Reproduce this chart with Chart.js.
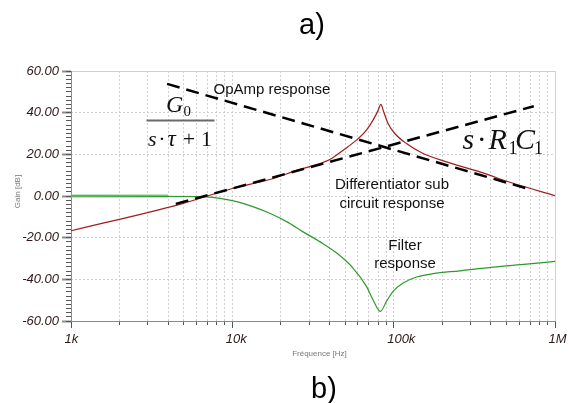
<!DOCTYPE html>
<html><head><meta charset="utf-8">
<script src="https://cdn.jsdelivr.net/npm/chart.js@4"></script>
<style>html,body{margin:0;padding:0;background:#fff}canvas{display:block}</style>
</head><body>
<canvas id="c" width="569" height="403"></canvas>
<script>
// ---- tick definitions ----
const xTickValues = [1000, 10000, 100000, 1000000];
const xTickLabels = ['1k', '10k', '100k', '1M'];
const yTickValues = [-60, -40, -20, 0, 20, 40, 60];

// ---- Filter response (green) ----
const filterFreq = [1000, 6550, 8360, 10650, 13400, 17050, 21700, 27300, 34800, 44400, 55800, 67800, 74500, 82800, 90200, 99200, 114400, 138500, 175500, 256900, 413000, 666000, 1000000];
const filterGain = [0, -0.3, -1.1, -2.7, -5.1, -8.3, -12.3, -17.1, -21.9, -27.4, -34.5, -43.4, -49.8, -55.4, -50.6, -45.8, -41.8, -38.9, -37.3, -35.9, -34.1, -32.7, -31.4];

// ---- overlapping flat 0 dB trace (light green) ----
const flatFreq = [1000, 4000];
const flatGain = [0, 0];

// ---- Differentiator sub circuit response (red) ----
const diffFreq = [1000, 4720, 10000, 17050, 25000, 40200, 48600, 58800, 67800, 74500, 80100, 83200, 86800, 92300, 101600, 120000, 152200, 212500, 342000, 550000, 1000000];
const diffGain = [-16.7, -4.0, 3.6, 7.9, 12.3, 17.5, 22, 26.8, 31.6, 36.4, 41.1, 44.0, 40.3, 34.8, 30, 25.2, 20.4, 16.4, 11.6, 6.1, 0.2];

// ---- asymptotes (dashed) ----
const opampFreq = [3940, 698000];
const opampGain = [53.8, 3.2];
const rcFreq = [4460, 739000];
const rcGain = [-3.8, 43.1];

const pts = (xs, ys) => xs.map((x, i) => ({x: x, y: ys[i]}));

const minorX = [];
for (let d = 1000; d < 1000000; d *= 10) for (let k = 1; k < 10; k++) minorX.push(d * k);
minorX.push(1000000);
const minorY = [];
for (let v = -60; v <= 60; v += 2) minorY.push(v);

const SANS = '"Liberation Sans", Arial, sans-serif';
const labelColor = '#301818';
Chart.defaults.font.family = SANS;

const texts = {
  id: 'texts',
  afterDraw(chart) {
    const c = chart.ctx;
    c.save();
    c.textBaseline = 'alphabetic';
    c.fillStyle = '#000';
    c.textAlign = 'center';
    c.font = '29px ' + SANS;
    c.fillText('a)', 312, 33.5);
    c.fillText('b)', 324, 397.5);

    c.fillStyle = '#111';
    c.font = '15px ' + SANS;
    c.textAlign = 'left';
    c.fillText('OpAmp response', 213.5, 94.3);
    c.textAlign = 'center';
    c.fillText('Differentiator sub', 392, 189.3);
    c.fillText('circuit response', 392, 207.7);
    c.fillText('Filter', 405, 250);
    c.fillText('response', 405, 268.3);

    c.fillStyle = '#777';
    c.font = '8px ' + SANS;
    c.fillText('Fréquence [Hz]', 319.5, 355.5);
    c.save();
    c.translate(19.5, 191.5);
    c.rotate(-Math.PI / 2);
    c.fillText('Gain [dB]', 0, 0);
    c.restore();

    const serifI = s => 'italic ' + s + 'px "Liberation Serif", "Times New Roman", serif';
    const serif = s => s + 'px "Liberation Serif", "Times New Roman", serif';
    c.fillStyle = '#111';
    c.textAlign = 'left';
    // G0 / (s·τ+1)
    c.font = serifI(24); c.fillText('G', 166, 111.7);
    c.font = serif(15); c.fillText('0', 183.5, 116);
    c.fillStyle = '#6a6a6a';
    c.fillRect(146.5, 119.5, 68, 2);
    c.fillStyle = '#111';
    c.font = serifI(22); c.fillText('s', 148, 145.5);
    c.textAlign = 'center';
    c.font = serif(22); c.fillText('\u00B7', 162, 145.5);
    c.textAlign = 'left';
    c.font = serifI(23); c.fillText('\u03C4', 167.5, 145.5);
    c.textAlign = 'center';
    c.font = serif(22); c.fillText('+', 189, 145.5);
    c.textAlign = 'left';
    c.fillText('1', 201, 145.5);
    // s·R1C1
    c.font = serifI(30); c.fillText('s', 462.5, 149.3);
    c.textAlign = 'center';
    c.font = serif(30); c.fillText('\u00B7', 481.7, 149.3);
    c.textAlign = 'left';
    c.font = serifI(30); c.fillText('R', 488.5, 149.3);
    c.font = serif(18); c.fillText('1', 508.5, 154.3);
    c.font = serifI(30); c.fillText('C', 515, 149.3);
    c.font = serif(18); c.fillText('1', 534, 154.3);
    c.restore();
  }
};

new Chart(document.getElementById('c'), {
  type: 'line',
  data: {
    datasets: [
      { label: 'OpAmp response', data: pts(opampFreq, opampGain), borderColor: '#000', borderWidth: 2.5, borderDash: [13, 7], pointRadius: 0, order: 0, fill: false },
      { label: 's·R1C1', data: pts(rcFreq, rcGain), borderColor: '#000', borderWidth: 2.5, borderDash: [13, 7], pointRadius: 0, order: 0, fill: false },
      { label: 'Differentiator sub circuit response', data: pts(diffFreq, diffGain), borderColor: '#a11d1d', borderWidth: 1.2, pointRadius: 0, cubicInterpolationMode: 'monotone', order: 1, fill: false },
      { label: 'Filter response', data: pts(filterFreq, filterGain), borderColor: '#2e9a2e', borderWidth: 1.2, pointRadius: 0, cubicInterpolationMode: 'monotone', order: 2, fill: false },
      { label: 'flat', data: pts(flatFreq, flatGain), borderColor: '#86c986', borderWidth: 3, pointRadius: 0, order: 3, fill: false }
    ]
  },
  options: {
    responsive: false,
    animation: false,
    devicePixelRatio: 1,
    layout: { padding: { left: 0, right: 14, top: 71, bottom: 52 } },
    plugins: { legend: { display: false }, tooltip: { enabled: false }, title: { display: false } },
    scales: {
      x: {
        type: 'logarithmic', position: 'bottom', min: 1000, max: 1000000, weight: 1,
        afterBuildTicks: s => { s.ticks = xTickValues.map(v => ({value: v})); },
        afterFit: s => { s.height = 30; s.paddingLeft = 0; s.paddingRight = 0; },
        grid: { drawOnChartArea: false, tickLength: 7, tickColor: '#555', tickWidth: 1 },
        border: { display: true, color: '#8a8a8a', width: 1 },
        ticks: {
          autoSkip: false, maxRotation: 0, minRotation: 0, align: 'start', labelOffset: -6.5, padding: 4,
          color: labelColor, font: { family: SANS, size: 13, style: 'italic' },
          callback: v => { const i = xTickValues.indexOf(v); return i >= 0 ? xTickLabels[i] : ''; }
        }
      },
      xm: {
        type: 'logarithmic', position: 'bottom', min: 1000, max: 1000000, weight: 0,
        afterBuildTicks: s => { s.ticks = minorX.map(v => ({value: v})); },
        afterFit: s => { s.height = 0; s.paddingLeft = 0; s.paddingRight = 0; },
        grid: {
          drawOnChartArea: true, tickLength: 4, tickColor: '#555', tickWidth: 1,
          color: ctx => (ctx.tick && ctx.tick.value === 1000) ? 'rgba(0,0,0,0)' : '#d0d0d0'
        },
        border: { display: false, dash: ctx => (ctx.tick && ctx.tick.value === 1000000) ? [] : [2, 2] },
        ticks: { display: false, autoSkip: false }
      },
      y: {
        type: 'linear', position: 'left', min: -60, max: 60, weight: 1,
        afterBuildTicks: s => { s.ticks = yTickValues.map(v => ({value: v})); },
        afterFit: s => { s.width = 71; },
        grid: { drawOnChartArea: false, tickLength: 9, tickColor: '#8c8c8c', tickWidth: 2 },
        border: { display: true, color: '#8a8a8a', width: 1 },
        ticks: {
          autoSkip: false, padding: 3, color: labelColor, font: { family: SANS, size: 13, style: 'italic' },
          callback: v => Number(v).toFixed(2)
        }
      },
      ym: {
        type: 'linear', position: 'left', min: -60, max: 60, weight: 0,
        afterBuildTicks: s => { s.ticks = minorY.map(v => ({value: v})); },
        afterFit: s => { s.width = 0; },
        grid: {
          drawOnChartArea: true, tickLength: 5, tickColor: '#555', tickWidth: 1,
          color: ctx => (ctx.tick && ctx.tick.value % 20 === 0 && ctx.tick.value !== -60) ? '#d0d0d0' : 'rgba(0,0,0,0)'
        },
        border: { display: false, dash: ctx => (ctx.tick && ctx.tick.value === 60) ? [] : [2, 2] },
        ticks: { display: false, autoSkip: false }
      }
    }
  },
  plugins: [texts]
});
</script>
</body></html>
